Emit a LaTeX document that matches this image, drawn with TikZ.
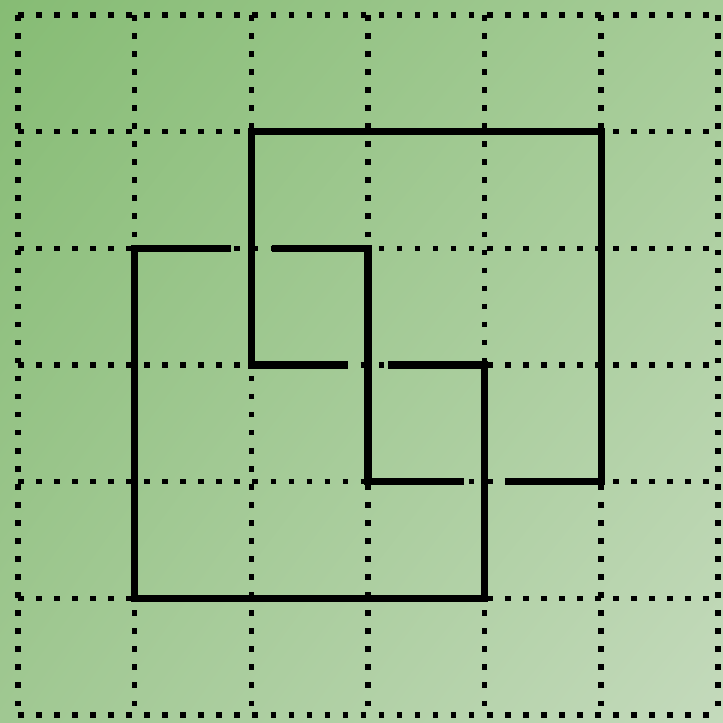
\documentclass[tikz,border=0pt]{standalone}
\usepackage{tikz}
\usetikzlibrary{calc,shadings}
\usepackage{xcolor}
\definecolor{bgTL}{RGB}{134,188,116}
\definecolor{bgTR}{RGB}{166,204,152}
\definecolor{bgBL}{RGB}{160,200,146}
\definecolor{bgBR}{RGB}{196,218,188}

\begin{document}
\begin{tikzpicture}[
    x=1cm, y=1cm,
    dotline/.style={black, line width=1.35pt, dash pattern=on 1.35pt off 3.05pt},
    knot/.style={black, line width=1.8pt, line join=miter},
]
\useasboundingbox (-0.154,-0.069) rectangle (6.043,6.129);
\shade[upper left=bgTL, upper right=bgTR, lower left=bgBL, lower right=bgBR]
  (-0.154,-0.069) rectangle (6.043,6.129);
\foreach \i in {0,...,6} {
  \draw[dotline] (\i,6) -- (\i,0);
  \draw[dotline] (0,\i) -- (6,\i);
}
\def\gp{0.175}
\draw[knot] (2+\gp,4) -- (3,4) -- (3,2) -- (4-\gp,2);
\draw[knot] (4+\gp,2) -- (5,2) -- (5,5) -- (2,5) -- (2,3) -- (3-\gp,3);
\draw[knot] (3+\gp,3) -- (4,3) -- (4,1) -- (1,1) -- (1,4) -- (2-\gp,4);
\end{tikzpicture}
\end{document}
